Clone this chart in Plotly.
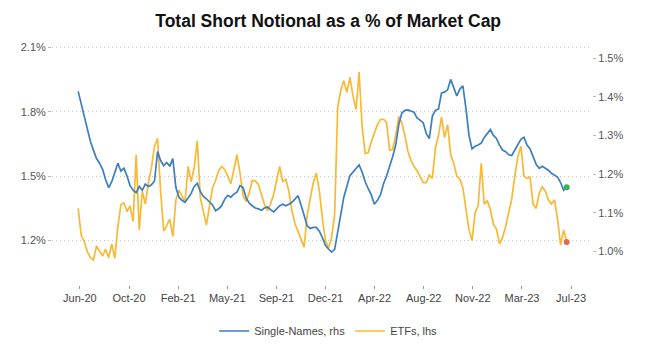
import numpy as np
import pandas as pd
import plotly.graph_objects as go

# ---- data (weekly) ----
start_date = "2020-06-01"
single_names_rhs = [
    1.414, 1.380, 1.350, 1.318, 1.285, 1.262, 1.240, 1.228, 1.212, 1.185,
    1.165, 1.180, 1.205, 1.228, 1.208, 1.215, 1.195, 1.170, 1.158, 1.152,
    1.168, 1.158, 1.174, 1.168, 1.172, 1.182, 1.258, 1.235, 1.222, 1.230,
    1.220, 1.240, 1.165, 1.140, 1.132, 1.127, 1.138, 1.150, 1.168, 1.176,
    1.155, 1.142, 1.136, 1.128, 1.120, 1.105, 1.110, 1.118, 1.135, 1.145,
    1.140, 1.148, 1.153, 1.170, 1.165, 1.138, 1.125, 1.118, 1.112, 1.110,
    1.106, 1.112, 1.115, 1.108, 1.102, 1.110, 1.118, 1.122, 1.118, 1.122,
    1.127, 1.135, 1.144, 1.120, 1.095, 1.066, 1.059, 1.062, 1.062, 1.052,
    1.035, 1.015, 1.006, 0.998, 1.005, 1.045, 1.095, 1.140, 1.170, 1.196,
    1.205, 1.215, 1.224, 1.205, 1.180, 1.162, 1.146, 1.122, 1.132, 1.146,
    1.175, 1.195, 1.218, 1.245, 1.275, 1.328, 1.358, 1.365, 1.366, 1.362,
    1.360, 1.345, 1.338, 1.333, 1.305, 1.292, 1.350, 1.365, 1.368, 1.410,
    1.412, 1.418, 1.445, 1.425, 1.402, 1.420, 1.428, 1.370, 1.300, 1.265,
    1.272, 1.275, 1.280, 1.295, 1.305, 1.315, 1.300, 1.292, 1.275, 1.262,
    1.258, 1.250, 1.248, 1.262, 1.278, 1.290, 1.295, 1.275, 1.265, 1.245,
    1.225, 1.215, 1.220, 1.215, 1.210, 1.202, 1.196, 1.192, 1.178, 1.158,
    1.166,
]
etfs_lhs = [
    1.350, 1.225, 1.195, 1.148, 1.122, 1.110, 1.175, 1.148, 1.128, 1.160,
    1.120, 1.185, 1.118, 1.265, 1.368, 1.375, 1.335, 1.362, 1.290, 1.600,
    1.250, 1.430, 1.370, 1.470, 1.540, 1.640, 1.675, 1.430, 1.245, 1.270,
    1.300, 1.220, 1.390, 1.435, 1.410, 1.380, 1.545, 1.475, 1.540, 1.665,
    1.400, 1.333, 1.272, 1.360, 1.445, 1.480, 1.525, 1.545, 1.530, 1.500,
    1.465, 1.530, 1.600, 1.515, 1.410, 1.382, 1.420, 1.480, 1.478, 1.462,
    1.420, 1.370, 1.340, 1.370, 1.415, 1.487, 1.545, 1.475, 1.485, 1.430,
    1.340, 1.280, 1.240, 1.200, 1.170, 1.320, 1.395, 1.470, 1.515, 1.430,
    1.300, 1.200, 1.165, 1.215, 1.320, 1.820, 1.900, 1.945, 1.890, 1.960,
    1.875, 1.810, 1.985, 1.730, 1.605, 1.610, 1.660, 1.700, 1.740, 1.764,
    1.765, 1.750, 1.620, 1.625, 1.690, 1.778, 1.748, 1.690, 1.615, 1.575,
    1.545, 1.525, 1.500, 1.470, 1.470, 1.505, 1.490, 1.630, 1.690, 1.775,
    1.680, 1.740, 1.600, 1.560, 1.500, 1.487, 1.445, 1.350, 1.250, 1.200,
    1.330, 1.362, 1.560, 1.370, 1.385, 1.345, 1.275, 1.255, 1.185, 1.215,
    1.265, 1.330, 1.395, 1.500, 1.590, 1.640, 1.500, 1.490, 1.495, 1.370,
    1.350, 1.420, 1.450, 1.430, 1.390, 1.370, 1.390, 1.300, 1.180, 1.250,
    1.194,
]
tick_labels = ["Jun-20", "Oct-20", "Feb-21", "May-21", "Sep-21", "Dec-21",
               "Apr-22", "Aug-22", "Nov-22", "Mar-23", "Jul-23"]
left_ticks = [1.2, 1.5, 1.8, 2.1]
right_ticks = [1.0, 1.1, 1.2, 1.3, 1.4, 1.5]

dates = pd.date_range(start_date, periods=len(single_names_rhs), freq="7D")
tick_dates = pd.to_datetime("2020-06-05") + pd.to_timedelta(np.arange(len(tick_labels)) * 112.6, "D")

BLUE = "#3b7fc0"
YELLOW = "#f8b935"
FONT = "Liberation Sans, Arial, sans-serif"

fig = go.Figure()
fig.add_trace(go.Scatter(x=dates, y=single_names_rhs, name="Single-Names, rhs",
                         mode="lines", line=dict(color=BLUE, width=1.7), yaxis="y2"))
fig.add_trace(go.Scatter(x=dates, y=etfs_lhs, name="ETFs, lhs",
                         mode="lines", line=dict(color=YELLOW, width=1.7), yaxis="y"))
fig.add_trace(go.Scatter(x=[dates[-1]], y=[single_names_rhs[-1]], mode="markers",
                         marker=dict(color="#3cb35a", size=6), yaxis="y2", showlegend=False))
fig.add_trace(go.Scatter(x=[dates[-1]], y=[etfs_lhs[-1]], mode="markers",
                         marker=dict(color="#e8674f", size=6), yaxis="y", showlegend=False))

fig.update_layout(
    width=646, height=348,
    margin=dict(l=52, r=54, t=40, b=61),
    paper_bgcolor="white", plot_bgcolor="white",
    font=dict(family=FONT, size=11, color="#555555"),
    title=dict(text="<b>Total Short Notional as a % of Market Cap</b>",
               x=0.508, xref="container", y=1 - 21 / 348, yref="container",
               xanchor="center", yanchor="middle",
               font=dict(family=FONT, size=17.5, color="#111111")),
    xaxis=dict(type="date", range=["2020-04-02", "2023-08-23"],
               tickvals=tick_dates, ticktext=tick_labels,
               ticks="outside", ticklen=3, tickcolor="#999999",
               showgrid=False, showline=False, zeroline=False,
               tickfont=dict(size=11, color="#444444")),
    yaxis=dict(range=[0.992, 2.134], tickvals=left_ticks,
               ticktext=[f"{v:.1f}%" for v in left_ticks],
               ticks="outside", ticklen=3, tickcolor="#bbbbbb",
               showgrid=True, gridcolor="#c4c4c4", griddash="1px,3px", gridwidth=1,
               zeroline=False, showline=False,
               tickfont=dict(size=11, color="#555555")),
    yaxis2=dict(range=[0.912, 1.547], tickvals=right_ticks,
                ticktext=[f"{v:.1f}%" for v in right_ticks],
                overlaying="y", side="right",
                ticks="outside", ticklen=3, tickcolor="#bbbbbb",
                showgrid=False, zeroline=False, showline=False,
                tickfont=dict(size=11, color="#555555")),
    legend=dict(orientation="h", x=0.508, xref="container", xanchor="center",
                y=1 - 331 / 348, yref="container", yanchor="middle",
                font=dict(size=11, color="#444444"), traceorder="normal"),
)

fig.write_html("out.html")
